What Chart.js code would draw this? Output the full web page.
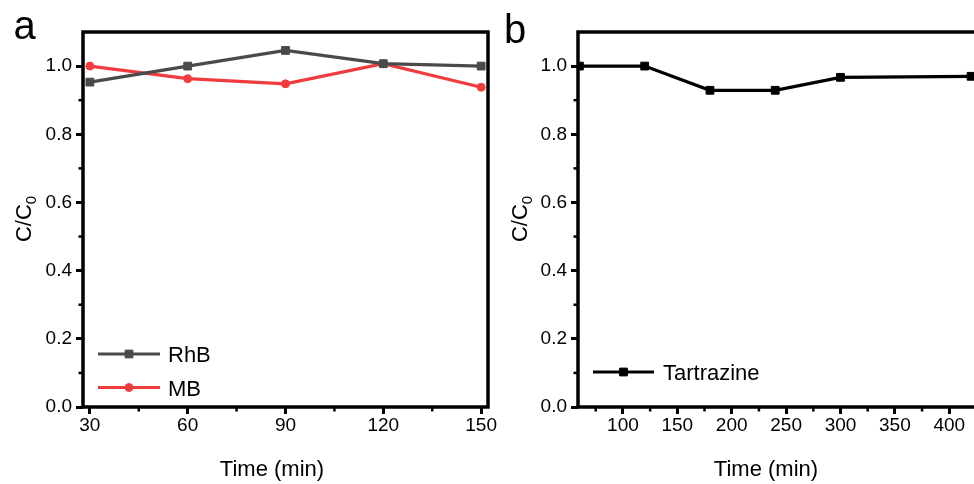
<!DOCTYPE html>
<html><head><meta charset="utf-8">
<script src="https://cdn.jsdelivr.net/npm/chart.js@4.4.0/dist/chart.umd.min.js"></script>
<style>
html,body{margin:0;padding:0;background:#fff;overflow:hidden;width:974px;height:484px;position:relative;}
.p{position:absolute;top:0;height:484px;width:500px;}
#wa{left:0;}
#wb{left:487px;}
</style></head><body>
<div class="p" id="wa"><canvas id="ca" width="500" height="484"></canvas></div>
<div class="p" id="wb"><canvas id="cb" width="500" height="484"></canvas></div>
<script>
// ---- data ----
const timeA = [30, 60, 90, 120, 150];
const rhb = [0.953, 1.0, 1.046, 1.007, 1.0];
const mb = [1.0, 0.963, 0.948, 1.007, 0.938];
const timeB = [60, 120, 180, 240, 300, 420];
const tartrazine = [1.0, 1.0, 0.929, 0.929, 0.967, 0.970];
const xTicksA = [30, 60, 90, 120, 150];
const xMinorA = [45, 75, 105, 135];
const xTicksB = [100, 150, 200, 250, 300, 350, 400];
const xMinorB = [75, 125, 175, 225, 275, 325, 375, 425];
const yTicks = [0, 0.2, 0.4, 0.6, 0.8, 1.0];
const yMinor = [0.1, 0.3, 0.5, 0.7, 0.9];

const FONT = '"Liberation Sans", Arial, Helvetica, sans-serif';

const deco = {
  id: 'deco',
  afterDraw(chart, args, o) {
    const ctx = chart.ctx, a = chart.chartArea, xs = chart.scales.x, ys = chart.scales.y;
    ctx.save();
    ctx.strokeStyle = '#000';
    ctx.lineWidth = 2.5;
    o.minorX.forEach(v => {
      const px = xs.getPixelForValue(v);
      if (px < a.left || px > a.right) return;
      ctx.beginPath(); ctx.moveTo(px, a.bottom); ctx.lineTo(px, a.bottom + 4.5); ctx.stroke();
    });
    o.minorY.forEach(v => {
      const py = ys.getPixelForValue(v);
      ctx.beginPath(); ctx.moveTo(a.left, py); ctx.lineTo(a.left - 4.5, py); ctx.stroke();
    });
    ctx.lineWidth = 3.5;
    ctx.strokeRect(a.left, a.top, a.right - a.left, a.bottom - a.top);

    // legend
    ctx.fillStyle = '#000';
    ctx.textBaseline = 'alphabetic';
    ctx.font = '22px ' + FONT;
    chart.data.datasets.forEach((ds, i) => {
      const y = o.legend.y + i * o.legend.dy;
      ctx.strokeStyle = ds.borderColor;
      ctx.lineWidth = ds.borderWidth;
      ctx.beginPath(); ctx.moveTo(o.legend.x1, y); ctx.lineTo(o.legend.x2, y); ctx.stroke();
      ctx.fillStyle = ds.pointBackgroundColor;
      ctx.strokeStyle = ds.borderColor;
      ctx.lineWidth = 1;
      Chart.helpers.drawPoint(ctx, {pointStyle: ds.pointStyle, rotation: 0, radius: ds.pointRadius, borderWidth: 1},
        (o.legend.x1 + o.legend.x2) / 2, y);
      ctx.fillStyle = '#000';
      ctx.textAlign = 'left';
      ctx.fillText(ds.label, o.legend.tx, y + 8);
    });

    // x title
    ctx.font = '22px ' + FONT;
    ctx.textAlign = 'center';
    ctx.fillStyle = '#000';
    ctx.fillText(o.xTitle, o.xTitleX, 476);

    // y title C/C0 rotated
    ctx.save();
    ctx.translate(o.yTitleX, 219);
    ctx.rotate(-Math.PI / 2);
    ctx.font = '22px ' + FONT;
    const main = 'C/C', sub = '0';
    const w1 = ctx.measureText(main).width;
    ctx.font = '15px ' + FONT;
    const w2 = ctx.measureText(sub).width;
    const tot = w1 + w2;
    ctx.textAlign = 'left';
    ctx.font = '22px ' + FONT;
    ctx.fillText(main, -tot / 2, 0);
    ctx.font = '15px ' + FONT;
    ctx.fillText(sub, -tot / 2 + w1, 5);
    ctx.restore();

    // panel letter
    ctx.font = '40px ' + FONT;
    ctx.textAlign = 'left';
    ctx.fillText(o.letter, o.letterX, o.letterY);
    ctx.restore();
  }
};

function makeChart(id, datasets, xmin, xmax, xticks, minorX, yWidth, padRight, extra) {
  return new Chart(document.getElementById(id), {
    type: 'line',
    data: { datasets },
    plugins: [deco],
    options: {
      responsive: false,
      animation: false,
      layout: { padding: { top: 32, right: padRight, left: 0, bottom: 0 } },
      plugins: {
        legend: { display: false },
        tooltip: { enabled: false },
        deco: Object.assign({ minorX, minorY: yMinor, xTitle: 'Time (min)' }, extra)
      },
      scales: {
        x: {
          type: 'linear', min: xmin, max: xmax,
          afterBuildTicks: s => { s.ticks = xticks.map(v => ({ value: v })); },
          afterFit: s => { s.height = 77; },
          grid: { drawOnChartArea: false, drawTicks: true, tickLength: 7, tickWidth: 3, tickColor: '#000' },
          border: { display: false },
          ticks: { color: '#000', font: { family: FONT, size: 19 }, padding: 0, maxRotation: 0, autoSkip: false,
                   callback: v => String(v) }
        },
        y: {
          type: 'linear', min: 0, max: 1.1,
          afterBuildTicks: s => { s.ticks = yTicks.map(v => ({ value: v })); },
          afterFit: s => { s.width = yWidth; },
          grid: { drawOnChartArea: false, drawTicks: true, tickLength: 7, tickWidth: 3, tickColor: '#000' },
          border: { display: false },
          ticks: { color: '#000', font: { family: FONT, size: 19 }, padding: 4,
                   callback: v => Number(v).toFixed(1) }
        }
      }
    }
  });
}

makeChart('ca', [
  { label: 'RhB', data: timeA.map((t, i) => ({ x: t, y: rhb[i] })), borderColor: '#4a4a4a',
    backgroundColor: '#4a4a4a', pointBackgroundColor: '#4a4a4a', pointBorderColor: '#4a4a4a',
    borderWidth: 3.2, pointStyle: 'rect', pointRadius: 5.5, pointBorderWidth: 1, tension: 0 },
  { label: 'MB', data: timeA.map((t, i) => ({ x: t, y: mb[i] })), borderColor: '#f03c3e',
    backgroundColor: '#f03c3e', pointBackgroundColor: '#f03c3e', pointBorderColor: '#f03c3e',
    borderWidth: 3.2, pointStyle: 'circle', pointRadius: 4, pointBorderWidth: 1, tension: 0 }
], 27.9, 152.1, xTicksA, xMinorA, 83, 12,
  { legend: { x1: 98, x2: 160, y: 354, dy: 33.5, tx: 168 }, xTitleX: 272, yTitleX: 31, letter: 'a', letterX: 13.5, letterY: 39 });

makeChart('cb', [
  { label: 'Tartrazine', data: timeB.map((t, i) => ({ x: t, y: tartrazine[i] })), borderColor: '#000',
    backgroundColor: '#000', pointBackgroundColor: '#000', pointBorderColor: '#000',
    borderWidth: 3.2, pointStyle: 'rect', pointRadius: 5.5, pointBorderWidth: 1, tension: 0 }
], 58.7, 426.4, xTicksB, xMinorB, 91, 9,
  { legend: { x1: 106, x2: 167, y: 372, dy: 0, tx: 176 }, xTitleX: 279, yTitleX: 40, letter: 'b', letterX: 17, letterY: 43 });
</script>
</body></html>
